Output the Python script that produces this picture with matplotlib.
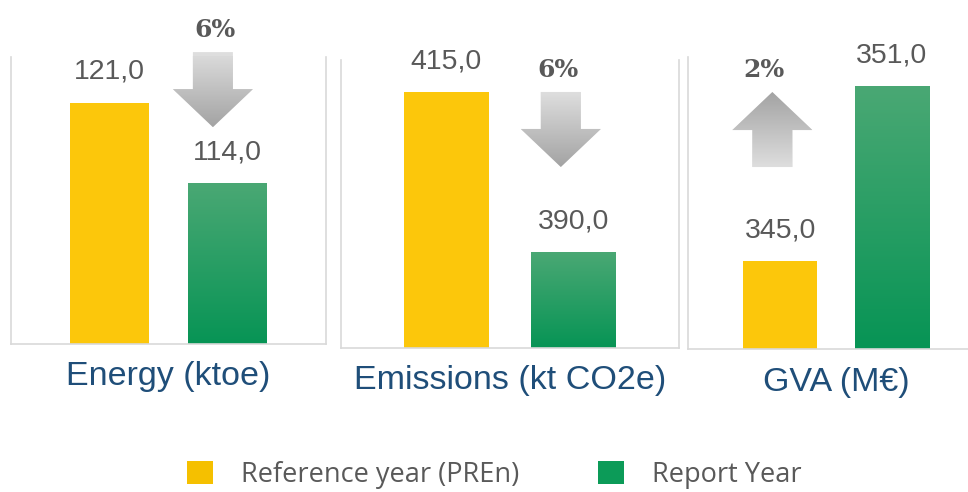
import numpy as np
import matplotlib
matplotlib.use("Agg")
import matplotlib.pyplot as plt
import matplotlib.transforms as mtransforms
from matplotlib.patches import Polygon, Patch
from matplotlib.colors import LinearSegmentedColormap

# Data
categories = ["Energy (ktoe)", "Emissions (kt CO2e)", "GVA (M€)"]
reference_values = [121.0, 415.0, 345.0]
report_values = [114.0, 390.0, 351.0]
legend_labels = ["Reference year (PREn)", "Report Year"]

# Axis ranges for each panel (the original chart does not start at 0)
y_floor = [100, 375, 342]
y_ceil = [125, 420, 352]

# Layout (pixels: left, top, right, bottom)
W, H = 968, 492
panel_boxes = [(11, 57, 326, 344), (341, 60, 679, 348), (688, 57, 984, 349)]
arrow_x = [0.875, 0.90, -0.072]      # data x of arrow centre
arrow_top = [1.017, 0.889, 0.880]    # axes fraction of arrow top
label_x = [0.89, 0.875, -0.15]

yellow = "#FCC70B"
green_top, green_bottom = "#4AA874", "#079455"
grey_light, grey_dark = "#DEDEDE", "#A3A3A3"
text_grey = "#595959"
blue = "#1F4E79"
spine_grey = "#D9D9D9"

fig = plt.figure(figsize=(W / 100, H / 100), dpi=100)


def gradient_fill(ax, patch, extent, c_top, c_bottom, transform):
    cmap = LinearSegmentedColormap.from_list("grad", [c_bottom, c_top])
    grad = np.linspace(0, 1, 256).reshape(-1, 1)
    im = ax.imshow(grad, cmap=cmap, extent=extent, origin="lower", aspect="auto",
                   transform=transform, interpolation="bicubic",
                   zorder=patch.get_zorder() + 0.1)
    im.set_clip_path(patch)
    im.set_clip_box(None)
    return im


for i, (cat, ref, rep) in enumerate(zip(categories, reference_values, report_values)):
    l, t, r, b = panel_boxes[i]
    ax = fig.add_axes([l / W, (H - b) / H, (r - l) / W, (b - t) / H])
    xlim = (-0.83, 1.83)
    ylim = (y_floor[i], y_ceil[i])

    bars = ax.bar([0, 1], [ref - y_floor[i], rep - y_floor[i]], bottom=y_floor[i],
                  width=0.667, color=[yellow, green_bottom], zorder=2)
    gb = bars[1]
    gradient_fill(ax, gb, (gb.get_x(), gb.get_x() + gb.get_width(), y_floor[i], rep),
                  green_top, green_bottom, ax.transData)

    for x, v in zip([0, 1], [ref, rep]):
        ax.annotate(f"{v:.1f}".replace(".", ","), xy=(x, v), xytext=(0, 24),
                    textcoords="offset pixels", ha="center", va="baseline",
                    fontsize=20.5, color=text_grey, family="Liberation Sans")

    # change arrow
    px_x = (xlim[1] - xlim[0]) / (r - l)
    px_y = 1.0 / (b - t)
    hw, sw = 40 * px_x, 20 * px_x
    length, hl = 75 * px_y, 38 * px_y
    xc, yt = arrow_x[i], arrow_top[i]
    yb = yt - length
    if rep < ref:
        verts = [(xc - sw, yt), (xc + sw, yt), (xc + sw, yb + hl), (xc + hw, yb + hl),
                 (xc, yb), (xc - hw, yb + hl), (xc - sw, yb + hl)]
        c_top, c_bot = grey_light, grey_dark
    else:
        verts = [(xc - sw, yb), (xc + sw, yb), (xc + sw, yt - hl), (xc + hw, yt - hl),
                 (xc, yt), (xc - hw, yt - hl), (xc - sw, yt - hl)]
        c_top, c_bot = grey_dark, grey_light
    blend = mtransforms.blended_transform_factory(ax.transData, ax.transAxes)
    arrow = Polygon(verts, closed=True, transform=blend, facecolor=grey_light,
                    edgecolor="none", clip_on=False, zorder=3)
    ax.add_patch(arrow)
    gradient_fill(ax, arrow, (xc - hw, xc + hw, yb, yt), c_top, c_bot, blend)

    pct = abs(rep - ref) / ref * 100
    ax.annotate(f"{pct:.0f}%", xy=(label_x[i], yt), xycoords=blend,
                xytext=(0, 15), textcoords="offset pixels", ha="center", va="baseline",
                fontsize=18, fontweight="bold", color=text_grey, family="DejaVu Serif",
                annotation_clip=False)

    ax.annotate(cat, xy=(0.5, 0), xycoords="axes fraction", xytext=(0, -33),
                textcoords="offset pixels", ha="center", va="center",
                fontsize=24.5, color=blue, family="Liberation Sans")

    ax.set_xlim(xlim)
    ax.set_ylim(ylim)
    ax.set_xticks([])
    ax.set_yticks([])
    ax.spines["top"].set_visible(False)
    for s in ["left", "right", "bottom"]:
        ax.spines[s].set_color(spine_grey)
        ax.spines[s].set_linewidth(1.2)

handles = [Patch(facecolor="#F5C000", edgecolor="none"),
           Patch(facecolor="#0C9B58", edgecolor="none")]
fig.legend(handles, legend_labels, loc="center", bbox_to_anchor=(0.511, 0.0346),
           ncol=2, frameon=False, prop={"family": "Open Sans", "size": 19.5},
           handlelength=0.96, handleheight=0.96, handletextpad=1.04,
           columnspacing=2.9, borderpad=0, labelcolor=text_grey)

fig.savefig("out.png", dpi=100)
